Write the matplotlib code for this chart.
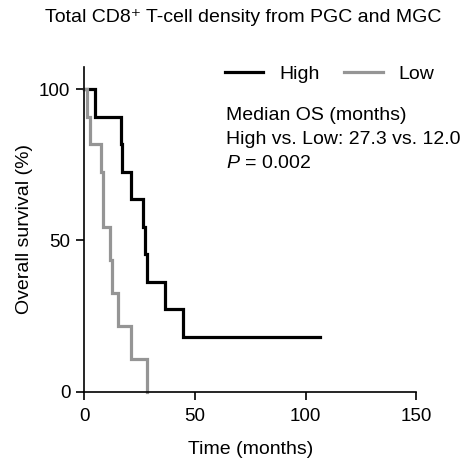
import matplotlib
matplotlib.use("Agg")
import matplotlib.pyplot as plt

plt.rcParams['font.family'] = ['Liberation Sans', 'DejaVu Sans']
plt.rcParams['mathtext.fontset'] = 'custom'
plt.rcParams['mathtext.rm'] = 'Liberation Sans'
plt.rcParams['mathtext.it'] = 'Liberation Sans:italic'

# Kaplan-Meier step data (months, % survival)
high_times = [0, 4.8, 16.4, 16.9, 21.0, 26.4, 27.2, 28.4, 36.4, 44.8, 106.6]
high_surv = [100, 90.9, 81.8, 72.7, 63.6, 54.5, 45.5, 36.4, 27.3, 18.2, 18.2]
low_times = [0, 1.1, 2.6, 7.6, 8.3, 11.6, 12.4, 15.1, 21.1, 28.5]
low_surv = [100, 90.9, 81.8, 72.7, 54.5, 43.6, 32.7, 21.8, 10.9, 0]

series_labels = ["High", "Low"]
series_colors = ["#000000", "#959595"]
x_ticks = [0, 50, 100, 150]
y_ticks = [0, 50, 100]

FS = 14

fig = plt.figure(figsize=(4.66, 4.62), dpi=100)
ax = fig.add_axes([0.181, 0.152, 0.712, 0.703])

ax.step(high_times, high_surv, where='post', color=series_colors[0], lw=2.3,
        label=series_labels[0], solid_joinstyle='miter', clip_on=False)
ax.step(low_times, low_surv, where='post', color=series_colors[1], lw=2.3,
        label=series_labels[1], solid_joinstyle='miter', clip_on=False)

ax.set_xlim(0, 150)
ax.set_ylim(0, 107.3)
ax.set_xticks(x_ticks)
ax.set_yticks(y_ticks)
for s in ['top', 'right']:
    ax.spines[s].set_visible(False)
for s in ['left', 'bottom']:
    ax.spines[s].set_linewidth(1.2)
ax.tick_params(direction='out', length=6, width=1.2, labelsize=13.5, pad=4)
ax.tick_params(axis='x', pad=5.5)

ax.set_xlabel("Time (months)", fontsize=FS, labelpad=12)
ax.set_ylabel("Overall survival (%)", fontsize=FS, labelpad=4.5)
fig.text(0.522, 0.963, "Total CD8\u207a T-cell density from PGC and MGC",
         ha='center', va='center', fontsize=FS)

leg = ax.legend(loc='upper left', bbox_to_anchor=(0.37, 1.06), ncol=2, frameon=False,
                fontsize=FS, handlelength=2.0, columnspacing=1.25, handletextpad=0.8)

fig.text(0.485, 0.751, "Median OS (months)", ha='left', va='center', fontsize=FS)
fig.text(0.485, 0.699, "High vs. Low: 27.3 vs. 12.0", ha='left', va='center', fontsize=FS)
fig.text(0.485, 0.647, "$\\it{P}$ = 0.002", ha='left', va='center', fontsize=FS)

fig.savefig("out.png", dpi=100)
